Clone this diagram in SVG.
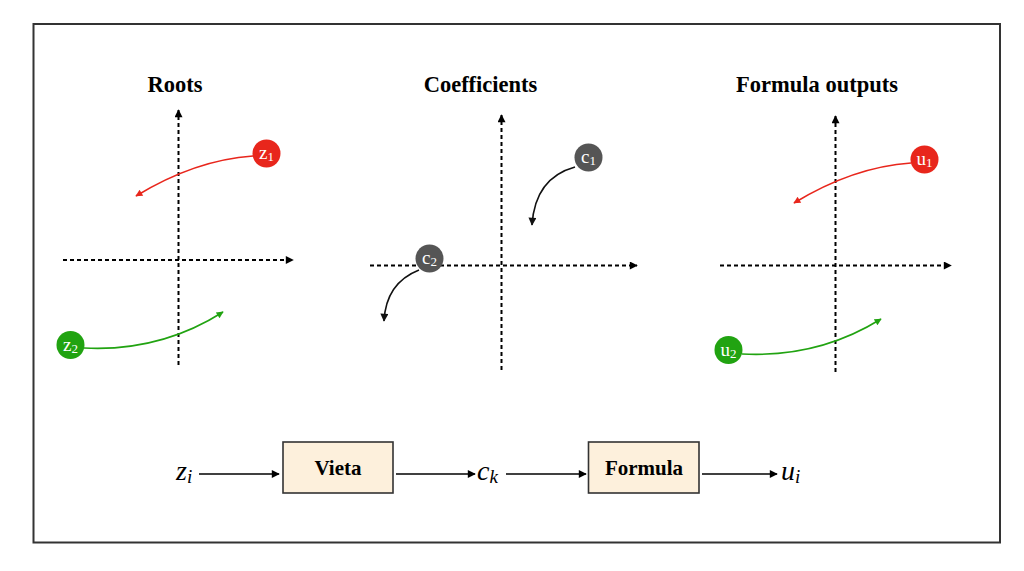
<svg xmlns="http://www.w3.org/2000/svg" width="1024" height="571" viewBox="0 0 1024 571">
<defs>
<marker id="ah" viewBox="0 0 10 10" refX="9" refY="5" markerWidth="9" markerHeight="8" markerUnits="userSpaceOnUse" orient="auto"><path d="M0,0 L10,5 L0,10 z" fill="#000"/></marker>
<marker id="ahR" viewBox="0 0 10 10" refX="9" refY="5" markerWidth="9" markerHeight="7" markerUnits="userSpaceOnUse" orient="auto"><path d="M0,0 L10,5 L0,10 z" fill="#e8261c"/></marker>
<marker id="ahG" viewBox="0 0 10 10" refX="9" refY="5" markerWidth="9" markerHeight="7" markerUnits="userSpaceOnUse" orient="auto"><path d="M0,0 L10,5 L0,10 z" fill="#21a311"/></marker>
<marker id="ahK" viewBox="0 0 10 10" refX="9" refY="5" markerWidth="9" markerHeight="8" markerUnits="userSpaceOnUse" orient="auto"><path d="M0,0 L10,5 L0,10 z" fill="#111"/></marker>
</defs>
<style>
.title{font-family:"Liberation Serif",serif;font-weight:bold;font-size:22.5px;text-anchor:middle;fill:#000}
.axis{stroke:#000;stroke-width:2;stroke-dasharray:4 3;fill:none;marker-end:url(#ah)}
.lbl{font-family:"Liberation Serif",serif;font-size:19px;fill:#fff;text-anchor:middle}
.sub{font-size:13px}
.red{fill:#e8261c}
.green{fill:#21a311}
.gray{fill:#555}
.cr{stroke:#e8261c;stroke-width:1.6;fill:none;marker-end:url(#ahR)}
.cg{stroke:#21a311;stroke-width:1.6;fill:none;marker-end:url(#ahG)}
.ck{stroke:#111;stroke-width:1.6;fill:none;marker-end:url(#ahK)}
.flow{stroke:#000;stroke-width:1.6;fill:none;marker-end:url(#ah)}
.box{fill:#fdf0dc;stroke:#333;stroke-width:1.6}
.btxt{font-family:"Liberation Serif",serif;font-weight:bold;font-size:21px;text-anchor:middle;fill:#000}
.math{font-family:"Liberation Serif",serif;font-style:italic;font-size:28px;fill:#000}
.msub{font-size:19px}
</style>
<rect x="33.5" y="24" width="966.5" height="518.5" fill="#fff" stroke="#333" stroke-width="2"/>

<g id="titles">
<text class="title" x="175" y="91.5">Roots</text>
<text class="title" x="480.5" y="91.5">Coefficients</text>
<text class="title" x="817" y="91.5">Formula outputs</text>
</g>

<g id="axes">
<line class="axis" x1="178.5" y1="365" x2="178.5" y2="110"/>
<line class="axis" x1="63" y1="260" x2="293" y2="260"/>
<line class="axis" x1="501.5" y1="370" x2="501.5" y2="115"/>
<line class="axis" x1="370" y1="265.5" x2="637" y2="265.5"/>
<line class="axis" x1="835.5" y1="372" x2="835.5" y2="116"/>
<line class="axis" x1="720" y1="265.5" x2="951" y2="265.5"/>
</g>

<g id="connectors">
<path class="cr" d="M253,156 Q195,160 136,196"/>
<path class="cg" d="M84,348 Q160,352 223,312"/>
<path class="ck" d="M575,167 Q535,178 532,225"/>
<path class="ck" d="M419,270 Q386,283 384,321"/>
<path class="cr" d="M911,163 Q853,167 794,203"/>
<path class="cg" d="M742,354 Q818,358 881,319"/>
<line class="flow" x1="199" y1="474" x2="279" y2="474"/>
<line class="flow" x1="396" y1="474" x2="475" y2="474"/>
<line class="flow" x1="506" y1="474" x2="586" y2="474"/>
<line class="flow" x1="702" y1="474" x2="777" y2="474"/>
</g>

<g id="z1"><circle class="red" cx="266.5" cy="153.5" r="14"/><text class="lbl" x="266.5" y="159">z<tspan class="sub" dy="2">1</tspan></text></g>
<g id="z2"><circle class="green" cx="70.5" cy="345" r="14"/><text class="lbl" x="70.5" y="350.5">z<tspan class="sub" dy="2">2</tspan></text></g>
<g id="c1"><circle class="gray" cx="588.5" cy="157.5" r="14"/><text class="lbl" x="588.5" y="163">c<tspan class="sub" dy="2">1</tspan></text></g>
<g id="c2"><circle class="gray" cx="429.5" cy="258.5" r="14"/><text class="lbl" x="429.5" y="264">c<tspan class="sub" dy="2">2</tspan></text></g>
<g id="u1"><circle class="red" cx="924.5" cy="159.5" r="14"/><text class="lbl" x="924.5" y="165">u<tspan class="sub" dy="2">1</tspan></text></g>
<g id="u2"><circle class="green" cx="728.5" cy="350" r="14"/><text class="lbl" x="728.5" y="355.5">u<tspan class="sub" dy="2">2</tspan></text></g>

<g id="zi"><text class="math" x="176" y="480">z<tspan class="msub" dy="3">i</tspan></text></g>
<g id="vieta"><rect class="box" x="283" y="442" width="110" height="51"/><text class="btxt" x="338" y="475">Vieta</text></g>
<g id="ck"><text class="math" x="477" y="480">c<tspan class="msub" dy="3">k</tspan></text></g>
<g id="formula"><rect class="box" x="588.5" y="442" width="110.5" height="51"/><text class="btxt" x="644" y="475">Formula</text></g>
<g id="ui"><text class="math" x="781" y="480">u<tspan class="msub" dy="3">i</tspan></text></g>
</svg>
